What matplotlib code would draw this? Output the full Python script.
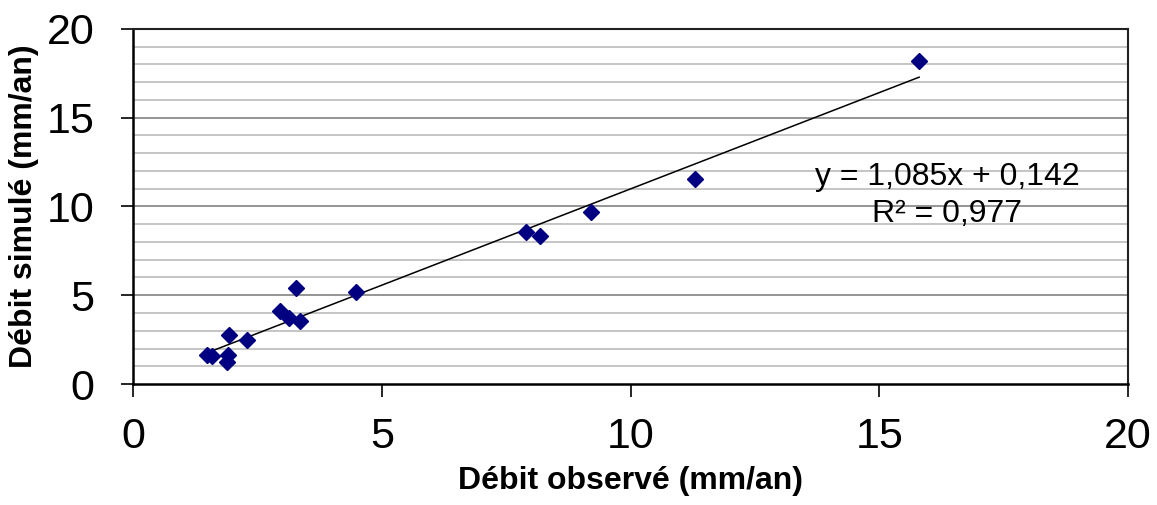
import matplotlib
matplotlib.use("Agg")
import matplotlib.pyplot as plt
import numpy as np

plt.rcParams['font.family'] = ['Liberation Sans', 'DejaVu Sans']

# Observed vs simulated runoff (mm/an)
obs = [1.48, 1.58, 1.90, 1.88, 1.93, 2.30, 2.95, 3.14, 3.36, 3.27, 4.48,
       7.90, 8.17, 9.21, 11.30, 15.80]
sim = [1.65, 1.55, 1.63, 1.26, 2.78, 2.48, 4.13, 3.70, 3.57, 5.41, 5.17,
       8.58, 8.34, 9.71, 11.55, 18.21]

# linear trend shown on the chart
slope = 1.085
intercept = 0.142
r2 = 0.977

fig = plt.figure(figsize=(11.57, 5.05), dpi=100)
ax = fig.add_axes([0.115, 0.2396, 0.86, 0.7030])

# horizontal grid: light every 1, darker every 5
for yv in range(1, 20):
    col = '#8c8c8c' if yv % 5 == 0 else '#c0c0c0'
    ax.axhline(yv, color=col, lw=1.3, zorder=0)

xs = np.array([min(obs), max(obs)])
ax.plot(xs, slope * xs + intercept, color='black', lw=1.1, zorder=2)
ax.plot(obs, sim, linestyle='none', marker='D', ms=7.8, color='#000080', zorder=3)

ax.text(16.36, 11.66, 'y = 1,085x + 0,142', fontsize=23, ha='center', va='center')
ax.text(16.36, 9.6, 'R² = 0,977', fontsize=23, ha='center', va='center')

ax.set_xlim(0, 20)
ax.set_ylim(0, 20)
ax.set_xticks([0, 5, 10, 15, 20])
ax.set_yticks([0, 5, 10, 15, 20])
ax.tick_params(labelsize=31, length=9, width=1.2, direction='out')
ax.tick_params(axis='x', pad=15)
ax.tick_params(axis='y', pad=19)

for s in ['left', 'bottom']:
    ax.spines[s].set_linewidth(1.8)
for s in ['top', 'right']:
    ax.spines[s].set_linewidth(1.5)
    ax.spines[s].set_color('#202020')

ax.set_xlabel('Débit observé (mm/an)', fontsize=23, fontweight='bold', labelpad=6)
ax.set_ylabel('Débit simulé (mm/an)', fontsize=23, fontweight='bold', labelpad=5)

fig.savefig('out.png', dpi=100)
